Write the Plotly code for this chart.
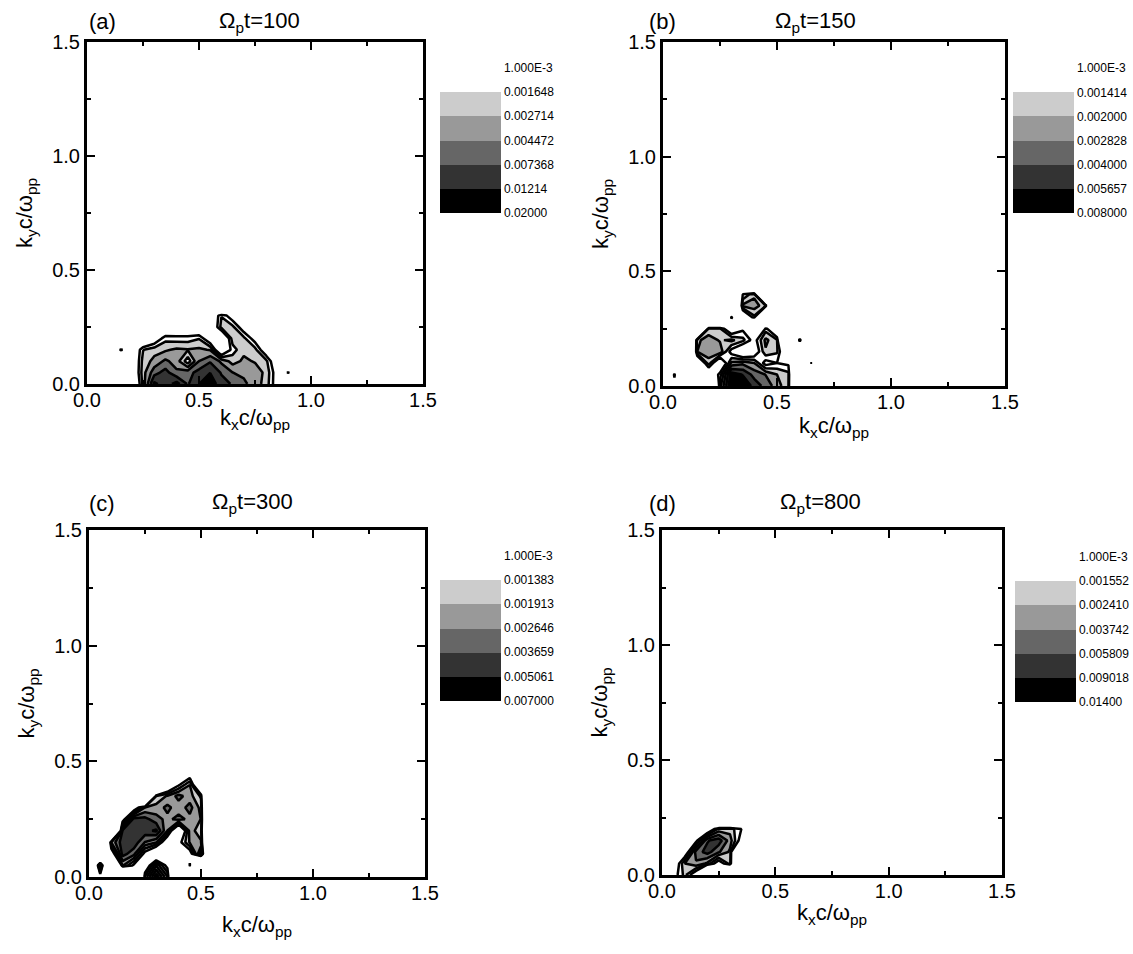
import numpy as np
import plotly.graph_objects as go

# ---------------- data (values in units of 1e-3) ----------------
# Panel (a): Omega_p t = 100
kx_a = [0.00, 0.05, 0.10, 0.15, 0.20, 0.25, 0.30, 0.35, 0.40, 0.45, 0.50,
        0.55, 0.60, 0.65, 0.70, 0.75, 0.80, 0.85, 0.90, 0.95, 1.00]
ky_a = [0.00, 0.05, 0.10, 0.15, 0.20, 0.25, 0.30, 0.35]
z_a = [
    [0, 0, 0, 0, 0.2, 2.0, 14, 9.0, 15, 7.0, 12, 17, 9.0, 7.0, 5.0, 3.5, 2.2, 0.6, 0, 0, 0],
    [0, 0, 0, 0, 0.3, 2.2, 6.0, 9.0, 5.0, 6.0, 9.0, 12, 7.0, 4.5, 4.0, 3.5, 2.4, 0.6, 1.1, 0, 0],
    [0, 0, 0, 0, 0.3, 2.0, 3.2, 5.0, 3.5, 1.2, 4.5, 7.0, 4.0, 2.2, 3.0, 2.6, 1.9, 0.4, 0, 0, 0],
    [0, 0, 0, 1.3, 0.3, 1.6, 2.2, 2.5, 3.0, 2.8, 3.0, 2.6, 0.3, 1.3, 2.4, 2.0, 0.5, 0, 0, 0, 0],
    [0, 0, 0, 0, 0, 0.2, 0.5, 1.4, 1.3, 1.3, 1.6, 0.5, 0.2, 2.2, 1.9, 0.7, 0, 0, 0, 0, 0],
    [0, 0, 0, 0, 0, 0, 0, 0.3, 0.3, 0.3, 0.3, 0.3, 2.0, 1.9, 0.6, 0, 0, 0, 0, 0, 0],
    [0, 0, 0, 0, 0, 0, 0, 0, 0, 0, 0, 0.3, 1.6, 0.6, 0, 0, 0, 0, 0, 0, 0],
    [0, 0, 0, 0, 0, 0, 0, 0, 0, 0, 0, 0, 0, 0, 0, 0, 0, 0, 0, 0, 0],
]
levels_a = [1.000e-3, 0.001648, 0.002714, 0.004472, 0.007368, 0.01214, 0.02000]
labels_a = ["1.000E-3", "0.001648", "0.002714", "0.004472", "0.007368", "0.01214", "0.02000"]

# Panel (b): Omega_p t = 150
kx_b = [0.00, 0.05, 0.10, 0.15, 0.20, 0.25, 0.30, 0.35, 0.40, 0.45, 0.50, 0.55, 0.60, 0.65, 0.70]
ky_b = [0.00, 0.05, 0.10, 0.15, 0.20, 0.25, 0.30, 0.35, 0.40, 0.45]
z_b = [
    [0, 0.5, 0, 0, 0, 1.8, 7.9, 7.8, 5.0, 3.5, 2.4, 1.5, 0, 0, 0],
    [0, 1.3, 0, 0, 0.4, 1.2, 7.0, 5.5, 3.5, 2.8, 2.0, 1.6, 0, 0, 0],
    [0, 0, 0, 0.3, 1.8, 0.4, 2.2, 2.6, 2.0, 0.8, 1.0, 0.9, 0, 1.05, 0],
    [0, 0, 0, 2.0, 2.3, 2.6, 0.8, 0.4, 0.6, 1.9, 1.5, 0.3, 0, 0, 0],
    [0, 0, 0, 1.8, 2.5, 1.9, 2.2, 1.6, 0.8, 2.2, 1.5, 0, 1.8, 0, 0],
    [0, 0, 0, 0, 1.5, 1.5, 0.5, 0.9, 0, 1.2, 0.3, 0, 0, 0, 0],
    [0, 0, 0, 0, 0, 0, 1.1, 0.3, 1.3, 0, 0, 0, 0, 0, 0],
    [0, 0, 0, 0, 0, 0, 0, 2.2, 2.4, 1.6, 0, 0, 0, 0, 0],
    [0, 0, 0, 0, 0, 0, 0, 1.0, 1.8, 0, 0, 0, 0, 0, 0],
    [0, 0, 0, 0, 0, 0, 0, 0, 0, 0, 0, 0, 0, 0, 0],
]
levels_b = [1.000e-3, 0.001414, 0.002000, 0.002828, 0.004000, 0.005657, 0.008000]
labels_b = ["1.000E-3", "0.001414", "0.002000", "0.002828", "0.004000", "0.005657", "0.008000"]

# Panel (c): Omega_p t = 300
kx_c = [0.00, 0.05, 0.10, 0.15, 0.20, 0.25, 0.30, 0.35, 0.40, 0.45, 0.50, 0.55, 0.60]
ky_c = [0.00, 0.05, 0.10, 0.15, 0.20, 0.25, 0.30, 0.35, 0.40, 0.45, 0.50]
z_c = [
    [0, 0.5, 0, 0, 0, 1.5, 6.5, 2.0, 0, 0, 0, 0, 0],
    [0, 6.5, 0, 2.0, 0.9, 0.5, 2.6, 0.8, 0, 1.1, 0, 0, 0],
    [0, 0, 0.6, 4.2, 3.0, 0.8, 0.3, 0, 0.5, 0.7, 4.5, 0, 0],
    [0, 0, 2.0, 4.5, 4.6, 2.6, 2.0, 0.5, 0.8, 2.0, 2.0, 0, 0],
    [0, 0, 0, 4.0, 4.8, 4.5, 5.4, 1.9, 0.3, 2.2, 1.6, 0, 0],
    [0, 0, 0, 0.7, 4.3, 4.1, 3.0, 2.4, 3.0, 2.4, 1.9, 0, 0],
    [0, 0, 0, 0, 0.6, 2.0, 2.2, 2.9, 2.2, 3.0, 1.7, 0, 0],
    [0, 0, 0, 0, 0, 0, 1.4, 2.0, 3.0, 2.2, 1.3, 0, 0],
    [0, 0, 0, 0, 0, 0, 0, 0.3, 0.9, 1.9, 0.2, 0, 0],
    [0, 0, 0, 0, 0, 0, 0, 0, 0.2, 0.6, 0, 0, 0],
    [0, 0, 0, 0, 0, 0, 0, 0, 0, 0, 0, 0, 0],
]
levels_c = [1.000e-3, 0.001383, 0.001913, 0.002646, 0.003659, 0.005061, 0.007000]
labels_c = ["1.000E-3", "0.001383", "0.001913", "0.002646", "0.003659", "0.005061", "0.007000"]

# Panel (d): Omega_p t = 800
kx_d = [0.00, 0.05, 0.10, 0.15, 0.20, 0.25, 0.30, 0.35, 0.40]
ky_d = [0.00, 0.05, 0.10, 0.15, 0.20, 0.25, 0.30]
z_d = [
    [0, 0.7, 1.8, 0.5, 0, 0, 0, 0, 0],
    [0, 0.4, 2.4, 3.5, 2.2, 0.6, 1.9, 0, 0],
    [0, 0, 0.5, 4.5, 7.0, 4.0, 2.2, 0, 0],
    [0, 0, 0, 0.8, 5.5, 7.5, 3.0, 0.7, 0],
    [0, 0, 0, 0, 0.4, 1.8, 2.0, 1.0, 0],
    [0, 0, 0, 0, 0, 0, 0, 0, 0],
    [0, 0, 0, 0, 0, 0, 0, 0, 0],
]
levels_d = [1.000e-3, 0.001552, 0.002410, 0.003742, 0.005809, 0.009018, 0.01400]
labels_d = ["1.000E-3", "0.001552", "0.002410", "0.003742", "0.005809", "0.009018", "0.01400"]

panel_letters = ["(a)", "(b)", "(c)", "(d)"]
panel_times = ["100", "150", "300", "800"]

# ---------------- layout geometry (pixels) ----------------
W, H = 1133, 954
# x0, x1, ytop, ybot of each plot box
boxes = [(87, 423, 42, 384), (663, 1005, 42, 386), (89, 425, 530, 877), (662, 1002, 530, 875)]
# colour bar: left x, bottom of darkest block
cbars = [(440, 212.7), (1013, 213.0), (440, 700.5), (1015, 701.7)]
block_h = 24.2
title_pos = [(259, 22), (815, 22), (252, 503), (820, 503)]
letter_pos = [(102, 22), (662, 22), (102, 503), (662, 503)]
xtitle_standoff = [0, 6, 14, 4]

FONT = "Liberation Sans, Arial, sans-serif"
band_colors = ["#ffffff", "#000000", "#333333", "#666666", "#999999", "#cccccc", "#ffffff", "#ffffff"]
cscale = [[i / 7, c] for i, c in enumerate(band_colors)]

panels = [
    (kx_a, ky_a, z_a, levels_a, labels_a),
    (kx_b, ky_b, z_b, levels_b, labels_b),
    (kx_c, ky_c, z_c, levels_c, labels_c),
    (kx_d, ky_d, z_d, levels_d, labels_d),
]

fig = go.Figure()
annotations = []
for i, (kx, ky, zm, levels, labels) in enumerate(panels):
    n = i + 1
    xa = "x" if n == 1 else f"x{n}"
    ya = "y" if n == 1 else f"y{n}"
    # extend the (empty) background grid to the edge of the 1.5 x 1.5 frame
    z = np.array(zm, dtype=float) * 1e-3
    z = np.pad(z, ((0, 1), (0, 1)), constant_values=0.0)
    xs = list(kx) + [1.5]
    ys = list(ky) + [1.5]
    w = -np.log10(np.maximum(z, 1e-6))
    start = -np.log10(levels[-1])
    end = -np.log10(levels[0])
    size = (end - start) / 6.0
    x0, x1, yt, yb = boxes[i]
    cbx, cbb = cbars[i]
    cb_len = 7 * block_h
    fig.add_trace(go.Contour(
        x=xs, y=ys, z=w, xaxis=xa, yaxis=ya,
        autocontour=False,
        contours=dict(start=start, end=end, size=size, coloring="fill", showlines=False),
        line=dict(width=0, smoothing=0),
        colorscale=cscale,
        showscale=True,
        colorbar=dict(
            x=cbx / W, xanchor="left", xpad=0,
            y=1 - (cbb + block_h / 2) / H, yanchor="bottom", ypad=0,
            len=cb_len, lenmode="pixels",
            thickness=61, thicknessmode="pixels",
            outlinewidth=0, ticks="", ticklen=0,
            tickmode="array",
            tickvals=[-np.log10(v) for v in levels],
            ticktext=labels,
            tickfont=dict(size=12, family=FONT, color="black"),
        ),
        hoverinfo="skip",
    ))
    fig.add_trace(go.Contour(
        x=xs, y=ys, z=w, xaxis=xa, yaxis=ya,
        autocontour=False,
        contours=dict(start=start, end=end, size=size, coloring="none", showlines=True),
        line=dict(color="black", width=2.5, smoothing=0),
        showscale=False,
        hoverinfo="skip",
    ))

    common = dict(
        range=[0, 1.5], showline=True, linecolor="black", linewidth=3,
        mirror="allticks", ticks="inside", ticklen=8, tickwidth=2, tickcolor="black",
        tickmode="array", tickvals=[0, 0.5, 1.0, 1.5], ticktext=["0.0", "0.5", "1.0", "1.5"],
        tickfont=dict(size=20, family=FONT, color="black"),
        showgrid=False, zeroline=False,
        minor=dict(tickmode="array", tickvals=[0.25, 0.75, 1.25], ticklen=4, tickwidth=2,
                   ticks="inside", tickcolor="black", showgrid=False),
        fixedrange=True, automargin=False,
    )
    xkey = "xaxis" if n == 1 else f"xaxis{n}"
    ykey = "yaxis" if n == 1 else f"yaxis{n}"
    fig.update_layout(**{
        xkey: dict(common, domain=[x0 / W, x1 / W], anchor=ya, ticklabelstandoff=-4,
                   title=dict(text="k<sub>x</sub>c/ω<sub>pp</sub>",
                              font=dict(size=22, family=FONT, color="black"),
                              standoff=xtitle_standoff[i])),
        ykey: dict(common, domain=[1 - yb / H, 1 - yt / H], anchor=xa,
                   title=dict(text="k<sub>y</sub>c/ω<sub>pp</sub>",
                              font=dict(size=22, family=FONT, color="black"), standoff=14)),
    })
    tx, ty = title_pos[i]
    annotations.append(dict(
        text=f"Ω<sub>p</sub>t={panel_times[i]}", x=tx / W, y=1 - ty / H,
        xref="paper", yref="paper", xanchor="center", yanchor="middle",
        showarrow=False, font=dict(size=22, family=FONT, color="black")))
    lx, ly = letter_pos[i]
    annotations.append(dict(
        text=panel_letters[i], x=lx / W, y=1 - ly / H,
        xref="paper", yref="paper", xanchor="center", yanchor="middle",
        showarrow=False, font=dict(size=22, family=FONT, color="black")))

fig.update_layout(
    width=W, height=H,
    margin=dict(l=0, r=0, t=0, b=0, autoexpand=False),
    paper_bgcolor="white", plot_bgcolor="white",
    showlegend=False,
    font=dict(family=FONT, color="black"),
    annotations=annotations,
)

fig.write_html("out.html")
